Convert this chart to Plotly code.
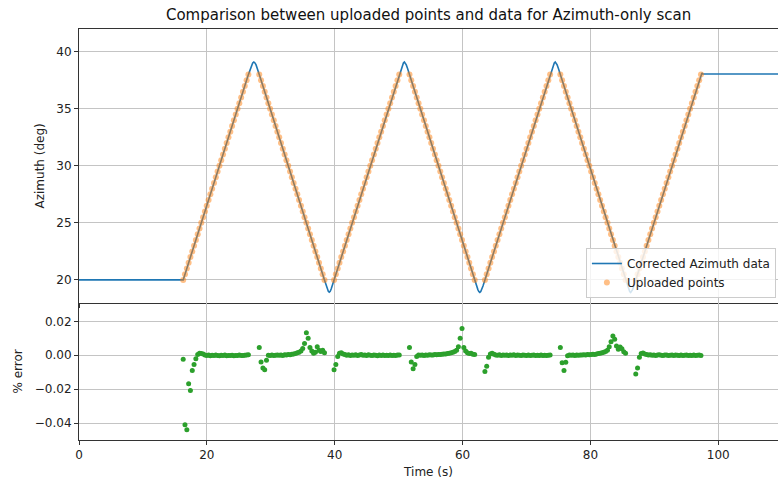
import plotly.graph_objects as go

# ---------------- data ----------------
# Corrected azimuth data (line vertices)
line_t = [0.0, 16.30,
          26.50, 26.80, 27.00, 27.17, 27.35, 27.53, 27.70, 27.90, 28.20,
          38.40, 38.65, 38.85, 39.00, 39.15, 39.30, 39.45, 39.65, 39.90,
          50.10, 50.40, 50.60, 50.75, 50.90, 51.05, 51.20, 51.40, 51.70,
          61.90, 62.20, 62.40, 62.55, 62.70, 62.85, 63.00, 63.20, 63.50,
          73.70, 74.00, 74.20, 74.35, 74.50, 74.65, 74.80, 75.00, 75.30,
          85.50, 85.80, 86.00, 86.15, 86.30, 86.45, 86.60, 86.80, 87.10,
          97.30, 97.45, 97.60, 110.0]
line_az = [20.0, 20.0,
           38.00, 38.53, 38.85, 39.02, 39.10, 39.02, 38.85, 38.53, 38.00,
           20.00, 19.55, 19.20, 19.00, 18.93, 19.00, 19.20, 19.55, 20.00,
           38.00, 38.53, 38.85, 39.02, 39.10, 39.02, 38.85, 38.53, 38.00,
           20.00, 19.47, 19.15, 18.98, 18.90, 18.98, 19.15, 19.47, 20.00,
           38.00, 38.53, 38.85, 39.02, 39.10, 39.02, 38.85, 38.53, 38.00,
           20.00, 19.47, 19.15, 18.98, 18.90, 18.98, 19.15, 19.47, 20.00,
           38.00, 38.15, 38.05, 38.05]

# Uploaded points: times per ramp
t_r1 = [16.30, 16.58, 16.87, 17.15, 17.43, 17.72, 18.00, 18.28, 18.57, 18.85, 19.13, 19.42, 19.70,
        19.98, 20.27, 20.55, 20.83, 21.12, 21.40, 21.68, 21.97, 22.25, 22.53, 22.82, 23.10, 23.38,
        23.67, 23.95, 24.23, 24.52, 24.80, 25.08, 25.37, 25.65, 25.93, 26.22, 26.50]
t_r2 = [28.20, 28.48, 28.77, 29.05, 29.33, 29.62, 29.90, 30.18, 30.47, 30.75, 31.03, 31.32, 31.60,
        31.88, 32.17, 32.45, 32.73, 33.02, 33.30, 33.58, 33.87, 34.15, 34.43, 34.72, 35.00, 35.28,
        35.57, 35.85, 36.13, 36.42, 36.70, 36.98, 37.27, 37.55, 37.83, 38.12, 38.40]
t_r3 = [39.90, 40.18, 40.47, 40.75, 41.03, 41.32, 41.60, 41.88, 42.17, 42.45, 42.73, 43.02, 43.30,
        43.58, 43.87, 44.15, 44.43, 44.72, 45.00, 45.28, 45.57, 45.85, 46.13, 46.42, 46.70, 46.98,
        47.27, 47.55, 47.83, 48.12, 48.40, 48.68, 48.97, 49.25, 49.53, 49.82, 50.10]
t_r4 = [51.70, 51.98, 52.27, 52.55, 52.83, 53.12, 53.40, 53.68, 53.97, 54.25, 54.53, 54.82, 55.10,
        55.38, 55.67, 55.95, 56.23, 56.52, 56.80, 57.08, 57.37, 57.65, 57.93, 58.22, 58.50, 58.78,
        59.07, 59.35, 59.63, 59.92, 60.20, 60.48, 60.77, 61.05, 61.33, 61.62, 61.90]
t_r5 = [63.50, 63.78, 64.07, 64.35, 64.63, 64.92, 65.20, 65.48, 65.77, 66.05, 66.33, 66.62, 66.90,
        67.18, 67.47, 67.75, 68.03, 68.32, 68.60, 68.88, 69.17, 69.45, 69.73, 70.02, 70.30, 70.58,
        70.87, 71.15, 71.43, 71.72, 72.00, 72.28, 72.57, 72.85, 73.13, 73.42, 73.70]
t_r6 = [75.30, 75.58, 75.87, 76.15, 76.43, 76.72, 77.00, 77.28, 77.57, 77.85, 78.13, 78.42, 78.70,
        78.98, 79.27, 79.55, 79.83, 80.12, 80.40, 80.68, 80.97, 81.25, 81.53, 81.82, 82.10, 82.38,
        82.67, 82.95, 83.23, 83.52, 83.80, 84.08, 84.37, 84.65, 84.93, 85.22, 85.50]
t_r7 = [87.10, 87.38, 87.67, 87.95, 88.23, 88.52, 88.80, 89.08, 89.37, 89.65, 89.93, 90.22, 90.50,
        90.78, 91.07, 91.35, 91.63, 91.92, 92.20, 92.48, 92.77, 93.05, 93.33, 93.62, 93.90, 94.18,
        94.47, 94.75, 95.03, 95.32, 95.60, 95.88, 96.17, 96.45, 96.73, 97.02, 97.30]

az_up = [20.0, 20.5, 21.0, 21.5, 22.0, 22.5, 23.0, 23.5, 24.0, 24.5, 25.0, 25.5, 26.0,
         26.5, 27.0, 27.5, 28.0, 28.5, 29.0, 29.5, 30.0, 30.5, 31.0, 31.5, 32.0, 32.5,
         33.0, 33.5, 34.0, 34.5, 35.0, 35.5, 36.0, 36.5, 37.0, 37.5, 38.0]
az_down = [38.0, 37.5, 37.0, 36.5, 36.0, 35.5, 35.0, 34.5, 34.0, 33.5, 33.0, 32.5, 32.0,
           31.5, 31.0, 30.5, 30.0, 29.5, 29.0, 28.5, 28.0, 27.5, 27.0, 26.5, 26.0, 25.5,
           25.0, 24.5, 24.0, 23.5, 23.0, 22.5, 22.0, 21.5, 21.0, 20.5, 20.0]

# % error per ramp
err_r1 = [-0.0024, -0.0410, -0.0440, -0.0168, -0.0208, -0.0090, -0.0055, -0.0020, 0.0004, 0.0012,
          0.0010, 0.0008, 0.0002, -0.0002, 0.0001, -0.0003, 0.0000, -0.0002, 0.0002, -0.0001,
          -0.0003, 0.0000, -0.0002, 0.0001, -0.0003, -0.0001, -0.0002, 0.0000, -0.0003, -0.0001,
          -0.0002, 0.0001, -0.0002, -0.0001, 0.0000, 0.0002, 0.0003]
err_r2 = [0.0045, -0.0040, -0.0075, -0.0085, -0.0030, 0.0000, -0.0002, 0.0001, -0.0001, 0.0000,
          0.0002, 0.0000, 0.0001, -0.0001, 0.0003, 0.0002, 0.0004, 0.0003, 0.0006, 0.0008,
          0.0010, 0.0014, 0.0018, 0.0025, 0.0040, 0.0070, 0.0133, 0.0100, 0.0045, 0.0025,
          0.0012, 0.0018, 0.0050, 0.0030, 0.0022, 0.0030, 0.0015]
err_r3 = [-0.0085, -0.0054, -0.0008, 0.0012, 0.0014, 0.0008, 0.0004, 0.0000, 0.0003, -0.0001,
          0.0002, 0.0000, 0.0003, -0.0002, 0.0001, 0.0004, 0.0000, 0.0002, -0.0001, 0.0003,
          0.0000, -0.0002, 0.0001, 0.0000, -0.0003, 0.0001, -0.0001, 0.0002, -0.0002, 0.0000,
          -0.0001, 0.0001, -0.0002, 0.0000, -0.0001, 0.0001, 0.0002]
err_r4 = [0.0045, -0.0040, -0.0080, -0.0055, -0.0008, 0.0002, 0.0000, 0.0001, -0.0001, 0.0002,
          0.0000, 0.0003, 0.0001, 0.0002, 0.0004, 0.0003, 0.0005, 0.0004, 0.0006, 0.0008,
          0.0007, 0.0010, 0.0012, 0.0015, 0.0018, 0.0022, 0.0030, 0.0050, 0.0100, 0.0158,
          0.0045, 0.0025, 0.0015, 0.0010, 0.0012, 0.0006, 0.0004]
err_r5 = [-0.0096, -0.0065, -0.0012, 0.0008, 0.0012, 0.0006, 0.0002, 0.0000, 0.0003, -0.0001,
          0.0002, 0.0000, 0.0001, -0.0002, 0.0002, 0.0000, 0.0003, -0.0001, 0.0001, 0.0000,
          -0.0002, 0.0002, 0.0000, -0.0001, 0.0001, -0.0002, 0.0000, 0.0002, -0.0001, 0.0000,
          -0.0002, 0.0001, -0.0001, 0.0000, -0.0002, 0.0000, 0.0001]
err_r6 = [0.0045, -0.0045, -0.0090, -0.0042, -0.0003, 0.0001, 0.0000, 0.0002, -0.0001, 0.0001,
          0.0000, 0.0002, 0.0001, 0.0003, 0.0002, 0.0004, 0.0003, 0.0005, 0.0006, 0.0005,
          0.0008, 0.0010, 0.0012, 0.0015, 0.0018, 0.0022, 0.0030, 0.0050, 0.0080, 0.0113,
          0.0095, 0.0055, 0.0035, 0.0048, 0.0038, 0.0020, 0.0012]
err_r7 = [-0.0110, -0.0075, -0.0012, 0.0010, 0.0013, 0.0008, 0.0004, 0.0001, 0.0003, 0.0000,
          0.0002, -0.0001, 0.0001, 0.0003, 0.0000, -0.0002, 0.0001, 0.0002, -0.0001, 0.0000,
          0.0002, -0.0002, 0.0001, 0.0000, -0.0001, 0.0002, -0.0002, 0.0000, 0.0001, -0.0002,
          0.0000, -0.0001, 0.0001, -0.0002, 0.0000, 0.0001, -0.0001]

x_ticks = [0, 20, 40, 60, 80, 100]
az_ticks = [20, 25, 30, 35, 40]
err_ticks = [-0.04, -0.02, 0.0, 0.02]

upload_t = t_r1 + t_r2 + t_r3 + t_r4 + t_r5 + t_r6 + t_r7
upload_az = az_up + az_down + az_up + az_down + az_up + az_down + az_up
upload_err = err_r1 + err_r2 + err_r3 + err_r4 + err_r5 + err_r6 + err_r7

# ---------------- figure ----------------
FONT = "DejaVu Sans"
GRID = "#c4c4c4"
fig = go.Figure()
fig.add_trace(go.Scatter(x=line_t, y=line_az, mode="lines", name="Corrected Azimuth data",
                         line=dict(color="#1f77b4", width=1.6), xaxis="x", yaxis="y"))
fig.add_trace(go.Scatter(x=upload_t, y=upload_az, mode="markers", name="Uploaded points",
                         marker=dict(color="#ff7f0e", size=6, opacity=0.5, line=dict(width=0)),
                         xaxis="x", yaxis="y"))
fig.add_trace(go.Scatter(x=upload_t, y=upload_err, mode="markers", showlegend=False,
                         marker=dict(color="#2ca02c", size=5, line=dict(width=0)),
                         xaxis="x2", yaxis="y2"))

axis_common = dict(showgrid=True, gridcolor=GRID, gridwidth=1, zeroline=False,
                   showline=True, linecolor="#333", linewidth=1, automargin=False,
                   ticks="outside", ticklen=4, tickcolor="#333",
                   tickfont=dict(family=FONT, size=12, color="#222"))
split = (440 - 302.7) / 411
fig.update_layout(
    width=778, height=483,
    margin=dict(l=79, r=0, t=29, b=43, autoexpand=False),
    paper_bgcolor="white", plot_bgcolor="white",
    font=dict(family=FONT, size=12, color="#222"),
    title=dict(text="Comparison between uploaded points and data for Azimuth-only scan",
               x=0.5509, xanchor="center", y=1 - 15 / 483, yanchor="middle",
               font=dict(family=FONT, size=15, color="#111")),
    xaxis=dict(axis_common, domain=[0, 1], anchor="y", range=[0, 109.35],
               tickvals=x_ticks, showticklabels=False, mirror=True),
    yaxis=dict(axis_common, domain=[split, 1], anchor="x", range=[18, 42],
               tickvals=az_ticks,
               title=dict(text="Azimuth (deg)", standoff=9, font=dict(family=FONT, size=12))),
    xaxis2=dict(axis_common, domain=[0, 1], anchor="y2", range=[0, 109.35],
                tickvals=x_ticks, matches="x", mirror=False,
                title=dict(text="Time (s)", standoff=6, font=dict(family=FONT, size=12))),
    yaxis2=dict(axis_common, domain=[0, split], anchor="x2", range=[-0.05, 0.031],
                tickvals=err_ticks, tickformat=".2f",
                title=dict(text="% error", standoff=9, font=dict(family=FONT, size=12))),
    legend=dict(x=0.997, xanchor="right", y=(440 - 298) / 411, yanchor="bottom",
                bgcolor="rgba(255,255,255,0.8)", bordercolor="#cccccc", borderwidth=1,
                itemwidth=30,
                font=dict(family=FONT, size=12, color="#222"), tracegroupgap=0),
)

fig.write_html("out.html", config={"displayModeBar": False},
               post_script="document.body.style.margin='0';")
